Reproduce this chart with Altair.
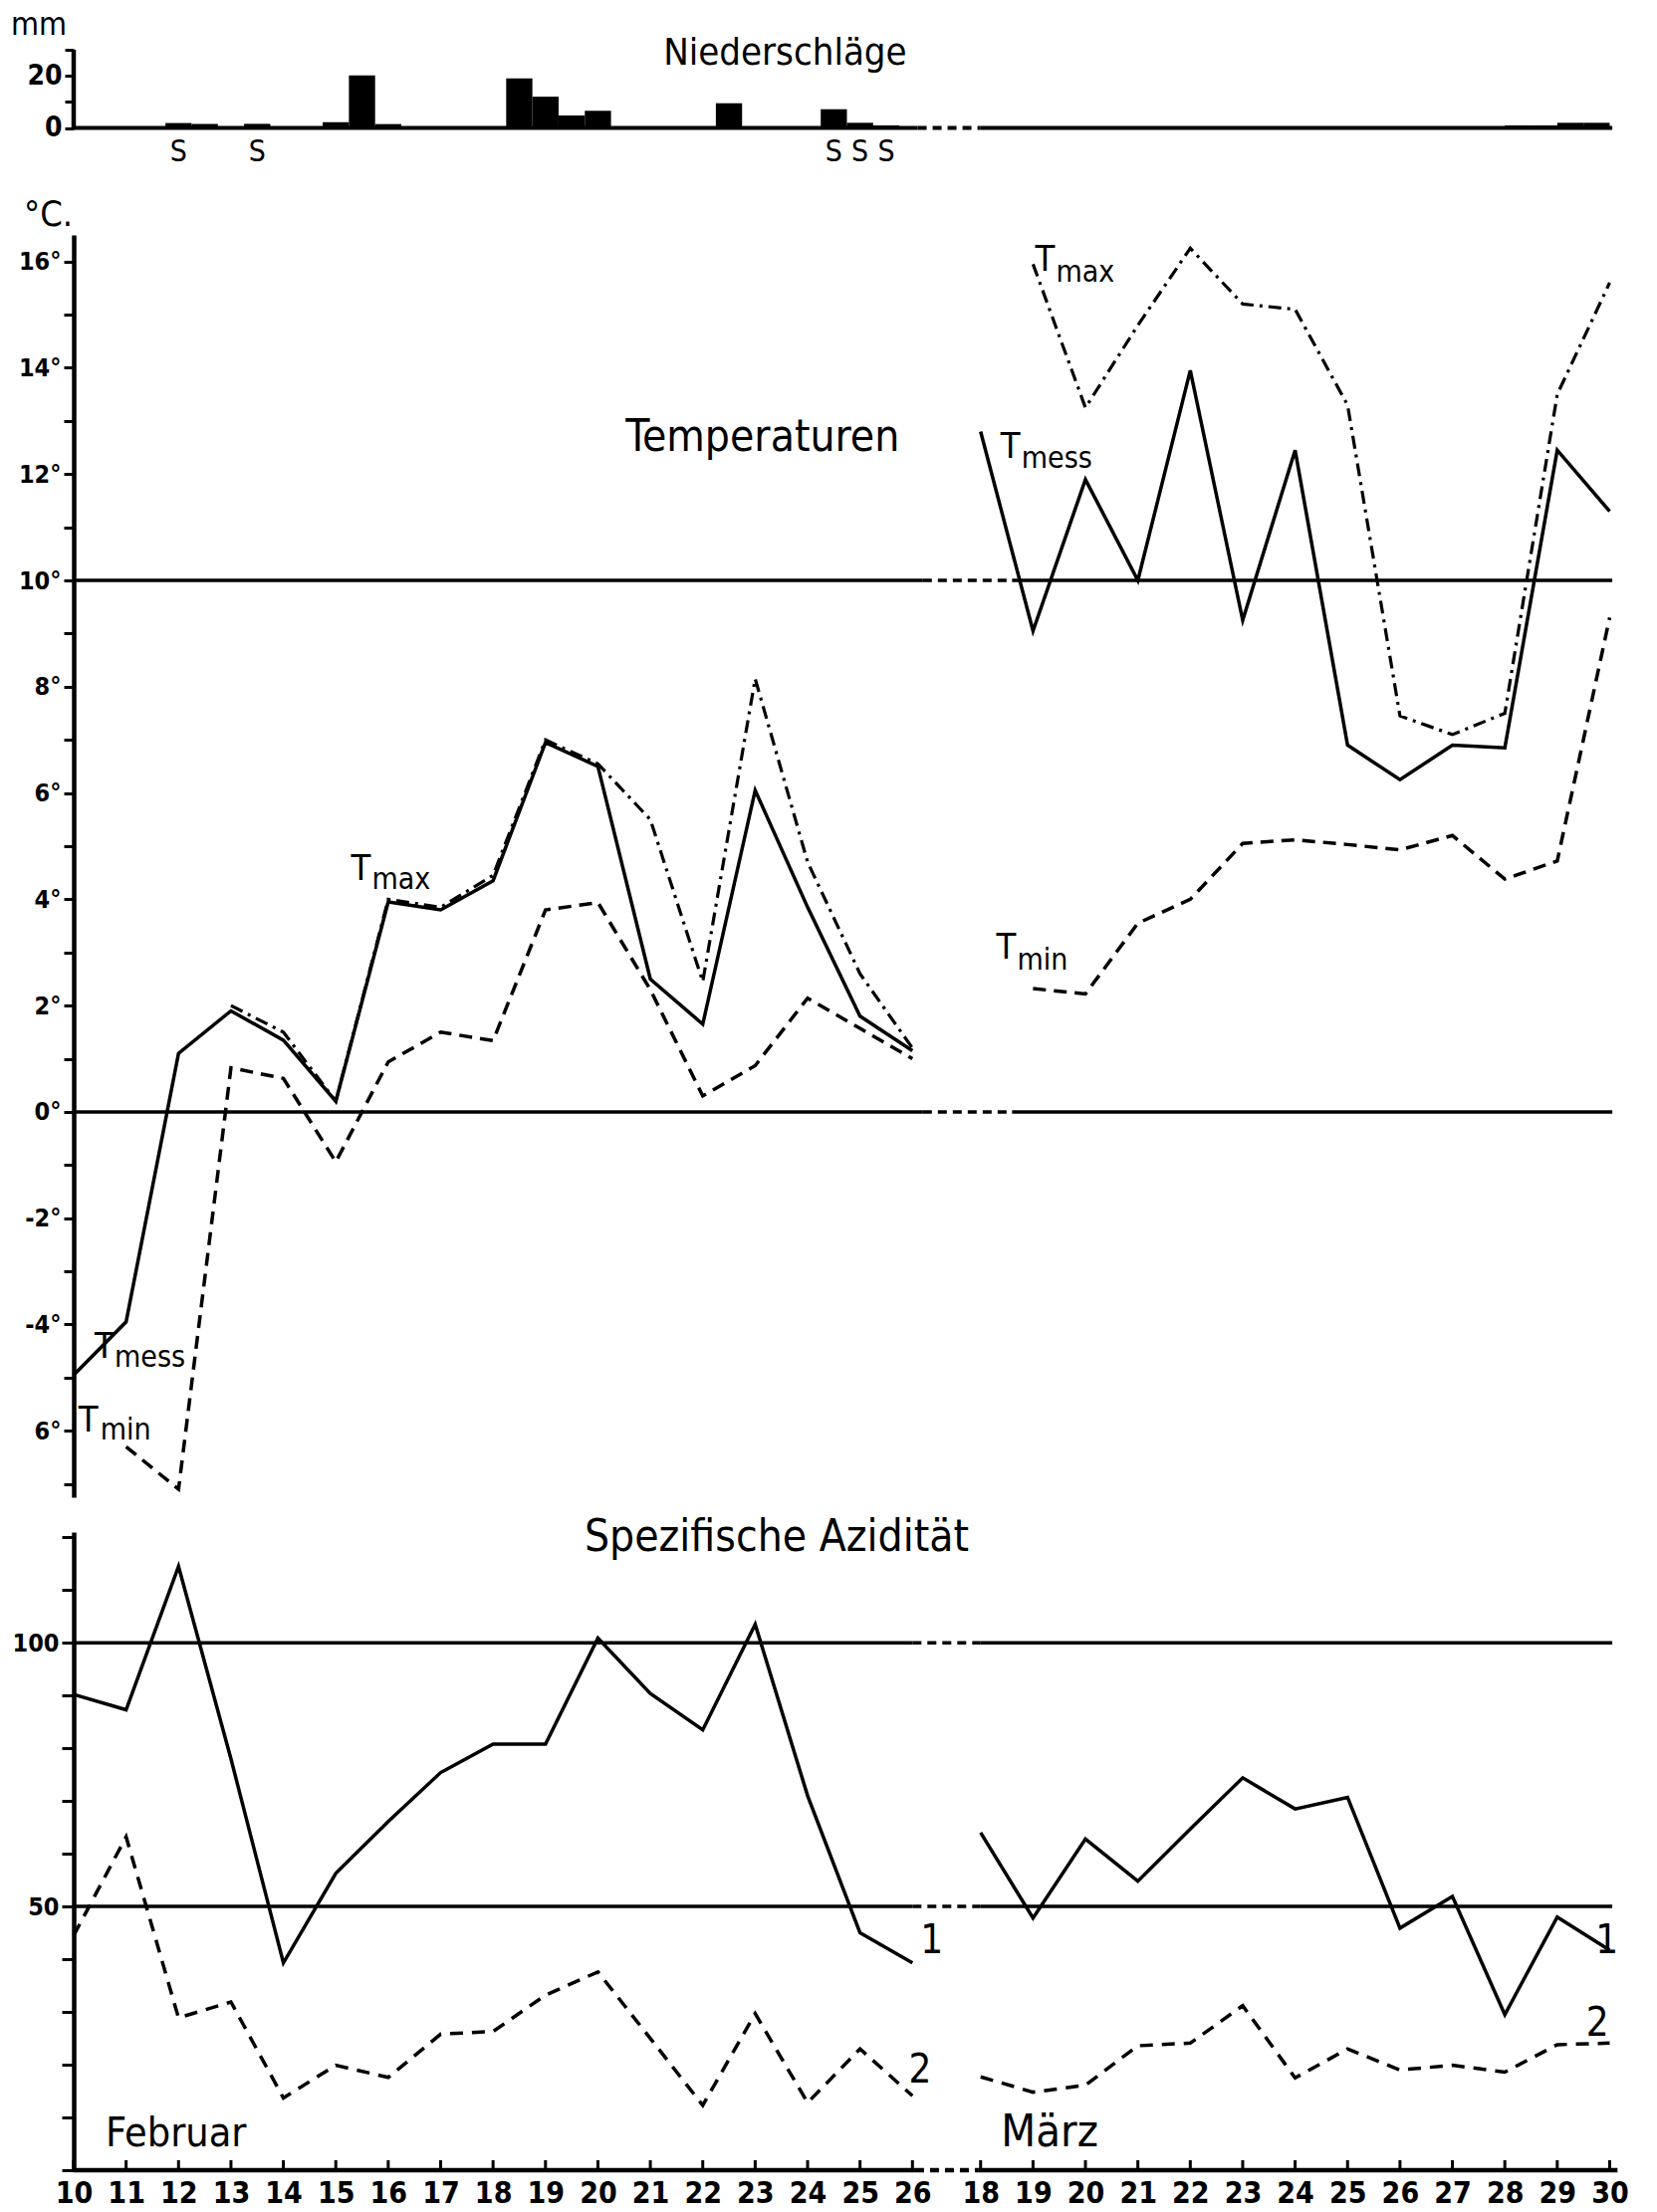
import altair as alt
import pandas as pd

FONT = "Liberation Sans Narrow, DejaVu Sans Condensed, sans-serif"

# ---------------- data ----------------
feb_days = list(range(10, 27))
mar_days = list(range(18, 31))

# Temperatures (°C)
tmess_feb = [-4.95, -3.95, 1.1, 1.9, 1.35, 0.2, 3.95, 3.8, 4.35, 6.95, 6.5, 2.5, 1.65, 6.05, 3.85, 1.8, 1.15]
tmax_feb_days = list(range(13, 27))
tmax_feb = [2.0, 1.5, 0.2, 4.0, 3.85, 4.45, 7.0, 6.55, 5.5, 2.45, 8.15, 4.7, 2.6, 1.2]
tmin_feb_days = list(range(11, 27))
tmin_feb = [-6.3, -7.1, 0.83, 0.63, -0.94, 0.94, 1.5, 1.34, 3.8, 3.94, 2.3, 0.3, 0.87, 2.14, 1.57, 1.0]

tmess_mar = [12.8, 9.05, 11.9, 10.0, 13.95, 9.25, 12.45, 6.9, 6.25, 6.9, 6.85, 12.45, 11.3]
tmax_mar_days = list(range(19, 31))
tmax_mar = [15.95, 13.25, 14.8, 16.25, 15.2, 15.1, 13.3, 7.45, 7.1, 7.5, 13.5, 15.6]
tmin_mar_days = list(range(19, 31))
tmin_mar = [2.32, 2.22, 3.55, 4.0, 5.05, 5.12, 5.03, 4.93, 5.2, 4.38, 4.72, 9.3]

# Spezifische Azidität
acid1_feb = [90.2, 87.3, 114.5, 78.0, 39.3, 56.3, 66.1, 75.4, 80.8, 80.8, 100.9, 90.4, 83.5, 103.5, 71.0, 45.0, 39.3]
acid2_feb = [44.5, 63.2, 28.9, 31.9, 13.7, 19.9, 17.6, 25.8, 26.3, 33.2, 37.6, 25.0, 12.3, 29.7, 12.8, 23.0, 14.1]
acid1_mar = [64.0, 47.8, 62.8, 54.8, 64.7, 74.4, 68.5, 70.7, 45.9, 51.9, 29.5, 48.0, 41.7]
acid2_mar = [17.7, 14.8, 16.1, 23.6, 24.1, 31.2, 17.5, 23.0, 19.0, 19.9, 18.6, 23.8, 24.1]

# Niederschläge (mm), half-day bars
precip_feb_days = [12.0, 12.5, 13.5, 15.0, 15.5, 16.0, 18.5, 19.0, 19.5, 20.0, 22.5, 24.5, 25.0, 25.5]
precip_feb_mm = [1.9, 1.6, 1.6, 2.2, 20.2, 1.5, 19.0, 12.0, 4.8, 6.6, 9.5, 7.2, 2.0, 1.0]
precip_mar_days = [28.25, 28.75, 29.25, 29.75]
precip_mar_mm = [1.0, 1.0, 2.0, 2.0]
snow_feb_days = [12.0, 13.5, 24.5, 25.0, 25.5]

temp_ref_values = [10, 0]
acid_ref_values = [100, 50]

# ---------------- layout helpers ----------------
MAR_POS = 17.3  # position of March 18 on the shared axis


def fx(d):
    return d - 10


def mx(d):
    return d - 18 + MAR_POS


W = 1553
XS = alt.Scale(domain=[0, 29.5], nice=False, zero=False)
H_P, H_T, H_A = 151, 1268, 641
YS_P = alt.Scale(domain=[-27.65, 30], nice=False, zero=False)
YS_T = alt.Scale(domain=[-7.25, 16.5], nice=False, zero=False)
YS_A = alt.Scale(domain=[0, 121], nice=False, zero=False)

AX_COMMON = dict(domainColor="black", tickColor="black", labelColor="black",
                 labelFont=FONT, grid=False, title=None, labelFontWeight="bold",
                 labelOverlap=False, labelFlush=False, labelBound=False)

AX_T = alt.Axis(values=list(range(-7, 17)), domainWidth=4.5, tickWidth=3, tickSize=10,
                labelFontSize=25, labelPadding=3,
                labelExpr="datum.value % 2 == 0 ? (datum.value == -6 ? '6°' : datum.value + '°') : ''",
                **AX_COMMON)
AX_A = alt.Axis(values=list(range(0, 121, 10)), domainWidth=4.5, tickWidth=3, tickSize=12,
                labelFontSize=25, labelPadding=3,
                labelExpr="datum.value == 50 || datum.value == 100 ? datum.value : ''",
                **AX_COMMON)
AX_P = alt.Axis(values=[0, 10, 20, 30], domain=False, tickWidth=3, tickSize=9,
                labelFontSize=28, labelPadding=3,
                labelExpr="datum.value == 0 || datum.value == 20 ? datum.value : ''",
                **AX_COMMON)

tick_pos = [fx(d) for d in feb_days] + [mx(d) for d in mar_days]
AX_X = alt.Axis(values=tick_pos, domain=False, ticks=False, labelFontSize=30,
                labelPadding=8,
                labelExpr="datum.value < 16.5 ? round(datum.value + 10) : round(datum.value + 18 - 17.3)",
                **AX_COMMON)


def series(feb_d, feb_v, mar_d, mar_v):
    rows = [{"x": fx(d), "v": v, "seg": "feb"} for d, v in zip(feb_d, feb_v)]
    rows += [{"x": mx(d), "v": v, "seg": "mar"} for d, v in zip(mar_d, mar_v)]
    return pd.DataFrame(rows)


def lines(df, ys, yax, width, dash=None, xax=None):
    kw = dict(color="black", strokeWidth=width, strokeJoin="miter")
    if dash:
        kw["strokeDash"] = dash
    return alt.Chart(df).mark_line(**kw).encode(
        x=alt.X("x:Q", scale=XS, axis=xax),
        y=alt.Y("v:Q", scale=ys, axis=yax),
        detail="seg:N",
    )


def ref_lines(values, ys, yax, gap_a, gap_b, end, xax=None, width=3.5):
    solid = pd.DataFrame([{"x": 0, "x2": gap_a, "v": v} for v in values] +
                         [{"x": gap_b, "x2": end, "v": v} for v in values])
    dashed = pd.DataFrame([{"x": gap_a, "x2": gap_b, "v": v} for v in values])
    l1 = alt.Chart(solid).mark_rule(color="black", strokeWidth=width).encode(
        x=alt.X("x:Q", scale=XS, axis=xax), x2="x2:Q", y=alt.Y("v:Q", scale=ys, axis=yax))
    l2 = alt.Chart(dashed).mark_rule(color="black", strokeWidth=width, strokeDash=[9, 6]).encode(
        x=alt.X("x:Q", scale=XS, axis=xax), x2="x2:Q", y=alt.Y("v:Q", scale=ys, axis=yax))
    return [l1, l2]


def texts(rows, ys, yax, size, align="left", weight="normal", xax=None):
    df = pd.DataFrame(rows)
    return alt.Chart(df).mark_text(font=FONT, fontSize=size, align=align, baseline="alphabetic",
                                   color="black", fontWeight=weight).encode(
        x=alt.X("x:Q", scale=XS, axis=xax), y=alt.Y("v:Q", scale=ys, axis=yax), text="t:N")


def t_label(main_x, main_v, sub, dx, dy, ys, yax):
    a = texts([{"x": main_x, "v": main_v, "t": "T"}], ys, yax, 36)
    b = alt.Chart(pd.DataFrame([{"x": main_x, "v": main_v, "t": sub}])).mark_text(
        font=FONT, fontSize=30, align="left", baseline="alphabetic", color="black", dx=dx, dy=dy
    ).encode(x=alt.X("x:Q", scale=XS, axis=None), y=alt.Y("v:Q", scale=ys, axis=yax), text="t:N")
    return [a, b]


# ---------------- precipitation panel ----------------
bars = pd.DataFrame(
    [{"x": fx(d) - 0.25, "x2": fx(d) + 0.25, "v": 0, "v2": m} for d, m in zip(precip_feb_days, precip_feb_mm)] +
    [{"x": mx(d) - 0.25, "x2": mx(d) + 0.25, "v": 0, "v2": m} for d, m in zip(precip_mar_days, precip_mar_mm)]
)
p_bars = alt.Chart(bars).mark_rect(color="black").encode(
    x=alt.X("x:Q", scale=XS, axis=None), x2="x2:Q",
    y=alt.Y("v:Q", scale=YS_P, axis=AX_P), y2="v2:Q")
p_axis = alt.Chart(pd.DataFrame([{"x": 0, "v": 0, "v2": 30}])).mark_rule(
    color="black", strokeWidth=4.5).encode(
    x=alt.X("x:Q", scale=XS, axis=None), y=alt.Y("v:Q", scale=YS_P, axis=AX_P), y2="v2:Q")
p_base = ref_lines([0], YS_P, AX_P, 16.1, 17.3, 29.35, width=4)
p_snow = texts([{"x": fx(d), "v": -12.7, "t": "S"} for d in snow_feb_days], YS_P, AX_P, 30, align="center")
p_title = texts([{"x": 13.57, "v": 24.2, "t": "Niederschläge"}], YS_P, AX_P, 38, align="center")
p_mm = alt.Chart(pd.DataFrame([{"v": 35.7, "t": "mm"}])).mark_text(
    font=FONT, fontSize=32, align="left", baseline="alphabetic", color="black").encode(
    x=alt.value(-63), y=alt.Y("v:Q", scale=YS_P, axis=AX_P), text="t:N")

precip = alt.layer(p_bars, p_axis, *p_base, p_snow, p_title, p_mm).properties(width=W, height=H_P)

# ---------------- temperature panel ----------------
tmess = series(feb_days, tmess_feb, mar_days, tmess_mar)
tmax = series(tmax_feb_days, tmax_feb, tmax_mar_days, tmax_mar)
tmin = series(tmin_feb_days, tmin_feb, tmin_mar_days, tmin_mar)

t_layers = ref_lines(temp_ref_values, YS_T, AX_T, 16.2, 17.9, 29.35)
t_layers += [
    lines(tmess, YS_T, AX_T, 3.5),
    lines(tmax, YS_T, AX_T, 3.2, [13, 6, 3, 6]),
    lines(tmin, YS_T, AX_T, 3.5, [13, 8]),
    texts([{"x": 13.14, "v": 12.44, "t": "Temperaturen"}], YS_T, AX_T, 44, align="center"),
]
t_layers += t_label(5.29, 4.37, "max", 21, 9, YS_T, AX_T)
t_layers += t_label(18.34, 15.83, "max", 21, 11, YS_T, AX_T)
t_layers += t_label(17.68, 12.3, "mess", 21, 10, YS_T, AX_T)
t_layers += t_label(0.40, -4.63, "mess", 20, 9, YS_T, AX_T)
t_layers += t_label(0.09, -6.01, "min", 22, 8, YS_T, AX_T)
t_layers += t_label(17.6, 2.88, "min", 21, 11, YS_T, AX_T)
t_layers.append(alt.Chart(pd.DataFrame([{"v": 16.66, "t": "°C."}])).mark_text(
    font=FONT, fontSize=36, align="left", baseline="alphabetic", color="black").encode(
    x=alt.value(-50), y=alt.Y("v:Q", scale=YS_T, axis=AX_T), text="t:N"))

temp = alt.layer(*t_layers).properties(width=W, height=H_T)

# ---------------- acidity panel ----------------
acid1 = series(feb_days, acid1_feb, mar_days, acid1_mar)
acid2 = series(feb_days, acid2_feb, mar_days, acid2_mar)

a_layers = ref_lines(acid_ref_values, YS_A, AX_A, 16.0, 17.3, 29.35, xax=AX_X)
a_layers += ref_lines([0], YS_A, AX_A, 16.05, 17.25, 29.45, xax=AX_X, width=4.5)
ticks_df = pd.DataFrame({"x": tick_pos})
a_layers.append(alt.Chart(ticks_df).mark_rule(color="black", strokeWidth=3).encode(
    x=alt.X("x:Q", scale=XS, axis=AX_X), y=alt.value(H_A), y2=alt.value(H_A - 10)))
a_layers += [
    lines(acid1, YS_A, AX_A, 3.5, xax=AX_X),
    lines(acid2, YS_A, AX_A, 3.5, [13, 9], xax=AX_X),
    texts([{"x": 13.41, "v": 117.5, "t": "Spezifische Azidität"}], YS_A, AX_A, 44, align="center", xax=AX_X),
    texts([{"x": 16.15, "v": 41.1, "t": "1"}, {"x": 15.93, "v": 16.7, "t": "2"},
           {"x": 29.03, "v": 41.1, "t": "1"}, {"x": 28.85, "v": 25.4, "t": "2"}],
          YS_A, AX_A, 40, xax=AX_X),
    texts([{"x": 0.61, "v": 4.6, "t": "Februar"}], YS_A, AX_A, 41, xax=AX_X),
    texts([{"x": 17.69, "v": 4.6, "t": "März"}], YS_A, AX_A, 45, xax=AX_X),
]
acid = alt.layer(*a_layers).properties(width=W, height=H_A)

chart = alt.vconcat(precip, temp, acid, spacing=35, bounds="flush").properties(
    padding={"left": 11, "top": 9, "right": 5, "bottom": 2},
    background="white",
).configure_view(stroke=None)

chart.save("out.html", embed_options={"renderer": "svg", "actions": False})
